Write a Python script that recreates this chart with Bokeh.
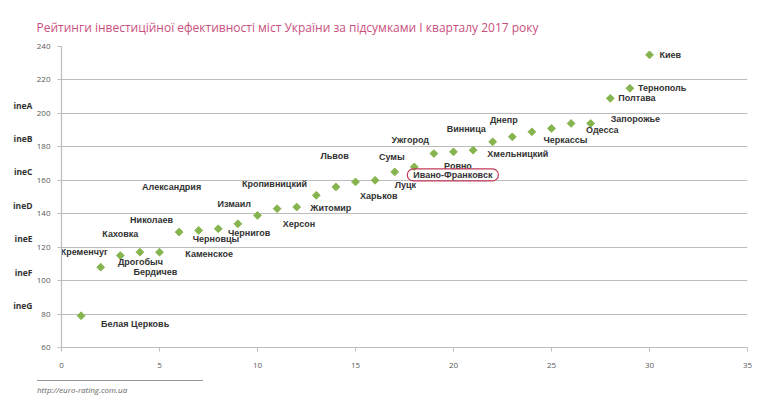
import math
from bokeh.plotting import figure
from bokeh.models import ColumnDataSource, LinearAxis, FixedTicker, Range1d, Div
from bokeh.layouts import column
from bokeh.core.properties import value
from bokeh.embed import file_html
from bokeh.resources import INLINE

# rank of the city and its rating score
rank = list(range(1, 31))
score = [79, 108, 115, 117, 117, 129, 130, 131, 134, 139, 143, 144, 151, 156, 159,
         160, 165, 168, 176, 177, 178, 183, 186, 189, 191, 194, 194, 209, 215, 235]
city = ["Белая Церковь", "Кременчуг", "Каховка", "Дрогобыч", "Бердичев", "Николаев",
        "Черновцы", "Каменское", "Чернигов", "Измаил", "Александрия", "Херсон",
        "Житомир", "Кропивницкий", "Львов", "Харьков", "Луцк", "Ивано-Франковск",
        "Сумы", "Ужгород", "Ровно", "Винница", "Хмельницкий", "Днепр", "Черкассы",
        "Одесса", "Запорожье", "Полтава", "Тернополь", "Киев"]
highlight = "Ивано-Франковск"

# label placement relative to its point, pixels (right, down)
lbl_dx = [20, -40, -18, -22, -26, -49, -6, -33, -10, -40, -135, -14, -6, -94, -35,
          -15, 0, -7, -55, -62, -29, -46, -25, -42, -8, 15, 20, 8, 8, 10]
lbl_dy = [8, -15, -22, 10, 20, -12, 9, 25, 9, -11, -22, 17, 13, -3, -26,
          16, 13, 8, 3, -12, 16, -13, 17, -12, 12, 7, -4, 0, 0, 0]

# rating grades shown at the left side
grade_pos = [205, 185, 165, 145, 125, 105, 85]
grade_names = ["ineA", "ineB", "ineC", "ineD", "ineE", "ineF", "ineG"]

title = "Рейтинги інвестиційної ефективності міст України за підсумками I кварталу 2017 року"
source_url = "http://euro-rating.com.ua"

FONT = "Open Sans"
GREEN = "#86b44f"
GREY = "#bdbdbd"

p = figure(width=760, height=372, output_backend="svg", toolbar_location=None,
           x_range=Range1d(0, 35), y_range=Range1d(60, 240),
           min_border_left=61, min_border_right=13, min_border_top=46, min_border_bottom=25)
p.outline_line_color = None
p.background_fill_color = "white"

p.title.text = title
p.title.text_font = FONT
p.title.text_font_size = "12px"
p.title.text_font_style = "normal"
p.title.text_color = "#c9507e"
p.title.offset = -25
p.title.standoff = 22

p.xgrid.visible = False
p.ygrid.grid_line_color = GREY
p.ygrid.grid_line_width = 1.2

p.xaxis.ticker = FixedTicker(ticks=list(range(0, 36, 5)))
p.yaxis.ticker = FixedTicker(ticks=list(range(60, 241, 20)))
for ax in (p.xaxis, p.yaxis):
    ax.axis_line_color = GREY
    ax.axis_line_width = 1.2
    ax.major_tick_line_color = GREY
    ax.major_tick_out = 4
    ax.major_tick_in = 0
    ax.minor_tick_line_color = None
    ax.major_label_text_font = FONT
    ax.major_label_text_font_size = "8px"
    ax.major_label_text_color = "#595959"
p.xaxis.major_label_standoff = 11
p.yaxis.major_label_standoff = 7

grades = LinearAxis(ticker=FixedTicker(ticks=grade_pos),
                    major_label_overrides={g: n for g, n in zip(grade_pos, grade_names)})
grades.axis_line_color = None
grades.major_tick_line_color = None
grades.minor_tick_line_color = None
grades.major_label_standoff = -5
grades.major_label_text_font = FONT
grades.major_label_text_font_style = "bold"
grades.major_label_text_font_size = "8.5px"
grades.major_label_text_color = "#333333"
p.add_layout(grades, "left")

src = ColumnDataSource(dict(x=rank, y=score, name=city, dx=lbl_dx, dy=lbl_dy))
p.scatter("x", "y", source=src, marker="square", size=5.5, angle=math.pi / 4, color=GREEN)

plain = ColumnDataSource(dict(
    x=[x for x, c in zip(rank, city) if c != highlight],
    y=[y for y, c in zip(score, city) if c != highlight],
    name=[c for c in city if c != highlight],
    dx=[d for d, c in zip(lbl_dx, city) if c != highlight],
    dy=[d for d, c in zip(lbl_dy, city) if c != highlight]))
p.text("x", "y", text="name", x_offset="dx", y_offset="dy", source=plain,
       text_font=value("Liberation Sans"), text_font_style="bold", text_font_size="9px",
       text_color="#333333", text_align="left", text_baseline="middle")

i = city.index(highlight)
hl = ColumnDataSource(dict(x=[rank[i]], y=[score[i]], name=[city[i]],
                           dx=[lbl_dx[i]], dy=[lbl_dy[i]]))
p.text("x", "y", text="name", x_offset="dx", y_offset="dy", source=hl,
       text_font=value("Liberation Sans"), text_font_style="bold", text_font_size="9px",
       text_color="#333333", text_align="left", text_baseline="middle",
       border_line_color="#c23b5b", border_line_width=1.2, padding=[6, 1],
       border_radius=6)

footer = Div(text=source_url, width=200, height=20, margin=(8, 0, 0, 37),
             styles={"border-top": "1px solid #999999", "width": "166px",
                     "padding-top": "3px", "font-style": "italic",
                     "font-family": FONT, "font-size": "8px", "color": "#666666"})

layout = column(p, footer, spacing=0)
open("out.html", "w").write(file_html(layout, INLINE))
